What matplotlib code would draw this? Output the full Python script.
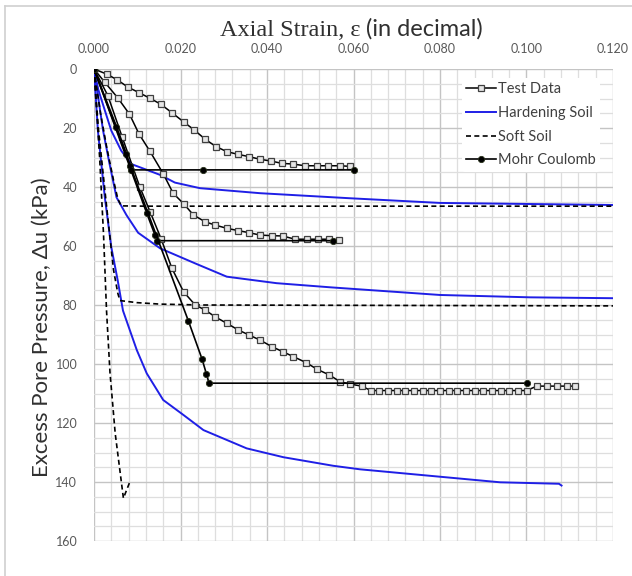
import matplotlib
matplotlib.use("Agg")
import matplotlib.pyplot as plt
from matplotlib.ticker import MultipleLocator, FormatStrFormatter
from matplotlib.lines import Line2D

plt.rcParams['font.family'] = ['Lato', 'DejaVu Sans']

# test data (three confining pressures)
t1_strain = [0, 0.0029, 0.0054, 0.0079, 0.0104, 0.0129, 0.0154, 0.0180, 0.0207, 0.0232,
             0.0257, 0.0282, 0.0307, 0.0332, 0.0358, 0.0384, 0.0409, 0.0435, 0.0459,
             0.0488, 0.0515, 0.0542, 0.0569, 0.0592]
t1_du = [0, 1.7, 3.7, 6.2, 8.0, 9.9, 11.9, 14.8, 17.9, 20.7, 23.8, 26.3, 28.0, 28.9,
         29.7, 30.6, 31.2, 32.0, 32.2, 32.8, 32.8, 32.8, 32.8, 33.0]

t2_strain = [0, 0.0025, 0.0055, 0.0082, 0.0104, 0.0129, 0.0160, 0.0183, 0.0208, 0.0230,
             0.0257, 0.0280, 0.0307, 0.0334, 0.0359, 0.0384, 0.0411, 0.0436, 0.0465,
             0.0492, 0.0517, 0.0543, 0.0567]
t2_du = [0, 4.5, 9.8, 15.3, 22.0, 27.8, 35.5, 42.1, 45.8, 49.5, 51.8, 52.9, 54.0, 54.8,
         55.5, 56.3, 56.5, 56.6, 57.7, 57.7, 57.7, 57.7, 57.9]

t3_strain = [0, 0.0032, 0.0065, 0.0106, 0.0130, 0.0155, 0.0180, 0.0207, 0.0234, 0.0257,
             0.0280, 0.0307, 0.0334, 0.0359, 0.0384, 0.0411, 0.0436, 0.0461, 0.0490,
             0.0516, 0.0544, 0.0569, 0.0592, 0.0619, 0.0640, 0.0660, 0.0680, 0.0700,
             0.0720, 0.0740, 0.0760, 0.0780, 0.0800, 0.0820, 0.0840, 0.0860, 0.0880,
             0.0900, 0.0920, 0.0940, 0.0960, 0.0980, 0.1000, 0.1024, 0.1047, 0.1070,
             0.1093, 0.1112]
t3_du = [0, 9.0, 23.0, 40.0, 48.5, 57.5, 67.5, 75.5, 80.0, 81.7, 84.0, 86.2, 88.5, 90.2,
         91.9, 94.1, 95.8, 97.5, 99.5, 101.8, 103.7, 106.0, 106.8, 107.5, 109.0, 109.0,
         109.0, 109.0, 109.0, 109.0, 109.0, 109.0, 109.0, 109.0, 109.0, 109.0, 109.0,
         109.0, 109.0, 109.0, 109.0, 109.0, 109.0, 107.5, 107.5, 107.5, 107.5, 107.5]

# Hardening Soil model
hs1_strain = [0, 0.0010, 0.0025, 0.0040, 0.0063, 0.0086, 0.0106, 0.0153, 0.0187, 0.0245,
              0.0384, 0.0590, 0.0800, 0.1200]
hs1_du = [0, 7.0, 14.0, 20.9, 27.7, 32.2, 33.3, 35.9, 38.5, 40.4, 42.1, 43.8, 45.4, 46.1]

hs2_strain = [0, 0.0021, 0.0036, 0.0052, 0.0075, 0.0102, 0.0153, 0.0234, 0.0307, 0.0422,
              0.0546, 0.0800, 0.1008, 0.1200]
hs2_du = [0, 20.9, 32.2, 43.5, 49.5, 55.5, 60.8, 65.9, 70.4, 72.6, 74.0, 76.6, 77.4, 77.7]

hs3_strain = [0, 0.0009, 0.0025, 0.0040, 0.0055, 0.0067, 0.0099, 0.0122, 0.0160, 0.0207,
              0.0253, 0.0353, 0.0438, 0.0553, 0.0615, 0.0939, 0.1075, 0.1081]
hs3_du = [0, 20.9, 43.5, 60.4, 71.8, 81.9, 95.3, 103.2, 112.2, 117.3, 122.4, 128.6,
          131.6, 134.5, 135.7, 140.1, 140.6, 141.2]

# Soft Soil model
ss1_strain = [0, 0.0015, 0.0030, 0.0045, 0.0055, 0.0063, 0.0120, 0.0300, 0.1200]
ss1_du = [0, 15.0, 27.0, 37.6, 44.0, 46.4, 46.5, 46.5, 46.5]

ss2_strain = [0, 0.0010, 0.0028, 0.0045, 0.0055, 0.0060, 0.0099, 0.0153, 0.0250, 0.1200]
ss2_du = [0, 20.0, 45.0, 68.0, 76.0, 78.5, 79.2, 79.7, 80.0, 80.3]

ss3_strain = [0, 0.0013, 0.0022, 0.0029, 0.0037, 0.0049, 0.0068, 0.0083]
ss3_du = [0, 30.0, 56.0, 82.0, 103.0, 123.5, 145.5, 139.9]

# Mohr Coulomb model
mc1_strain = [0, 0.0052, 0.0075, 0.0083, 0.0085, 0.0253, 0.0600]
mc1_du = [0, 19.5, 28.8, 32.8, 34.2, 34.2, 34.2]

mc2_strain = [0, 0.0122, 0.0141, 0.0145, 0.0552]
mc2_du = [0, 48.9, 56.3, 58.2, 58.2]

mc3_strain = [0, 0.0218, 0.0250, 0.0260, 0.0266, 0.1001]
mc3_du = [0, 85.3, 98.4, 103.4, 106.5, 106.5]

W, H = 632, 576
fig = plt.figure(figsize=(W / 100, H / 100), dpi=100)
ax = fig.add_axes([94 / W, 1 - 541 / H, (613 - 94) / W, (541 - 69) / H])

test_kw = dict(color='black', lw=1.1, marker='s', ms=4.8, mfc='#e6e6e6', mec='#404040',
               mew=0.9, zorder=4)
hs_kw = dict(color='#1f1fe6', lw=1.4, zorder=3)
ss_kw = dict(color='black', lw=1.2, ls=(0, (3, 2)), zorder=3)
mc_kw = dict(color='black', lw=1.2, marker='o', ms=4.5, mfc='black', mec='#28301a',
             mew=0.6, zorder=5)

ax.plot(t1_strain, t1_du, label='Test Data', **test_kw)
ax.plot(t2_strain, t2_du, **test_kw)
ax.plot(t3_strain, t3_du, **test_kw)
ax.plot(hs1_strain, hs1_du, label='Hardening Soil', **hs_kw)
ax.plot(hs2_strain, hs2_du, **hs_kw)
ax.plot(hs3_strain, hs3_du, **hs_kw)
ax.plot(ss1_strain, ss1_du, label='Soft Soil', **ss_kw)
ax.plot(ss2_strain, ss2_du, **ss_kw)
ax.plot(ss3_strain, ss3_du, **ss_kw)
ax.plot(mc1_strain, mc1_du, label='Mohr Coulomb', **mc_kw)
ax.plot(mc2_strain, mc2_du, **mc_kw)
ax.plot(mc3_strain, mc3_du, **mc_kw)

ax.set_xlim(0, 0.12)
ax.set_ylim(160, 0)
ax.xaxis.tick_top()
ax.xaxis.set_major_locator(MultipleLocator(0.02))
ax.xaxis.set_minor_locator(MultipleLocator(0.004))
ax.xaxis.set_major_formatter(FormatStrFormatter('%.3f'))
ax.yaxis.set_major_locator(MultipleLocator(20))
ax.yaxis.set_minor_locator(MultipleLocator(5))
ax.tick_params(which='both', length=0, labelsize=9, labelcolor='#595959')
ax.tick_params(axis='x', pad=10)
ax.tick_params(axis='y', pad=12)
ax.grid(which='major', color='#c4c4c4', lw=1.0)
ax.grid(which='minor', color='#dedede', lw=0.9)
ax.set_axisbelow(True)
for s in ax.spines.values():
    s.set_visible(False)

leg = ax.legend(loc='upper left', bbox_to_anchor=(462 / W, 1 - 78 / H),
                bbox_transform=fig.transFigure, frameon=True, fontsize=10.5,
                handlelength=2.0, handletextpad=0.15, labelspacing=0.66,
                borderpad=0.3, borderaxespad=0)
leg.get_frame().set_facecolor('white')
leg.get_frame().set_edgecolor('none')
leg.get_frame().set_alpha(1)
for t in leg.get_texts():
    t.set_color('#404040')

# title in two fonts: serif symbol part, sans bracket part
t_a = fig.text(220 / W, 1 - 36 / H, 'Axial Strain, \u03b5', family='Liberation Serif',
               fontsize=17.5, color='#303030', va='baseline', ha='left')
fig.canvas.draw()
bb = t_a.get_window_extent()
fig.text((bb.x1 + 6) / W, 1 - 36 / H, '(in decimal)', fontsize=17, color='#303030',
         va='baseline', ha='left')

fig.text(42 / W, 1 - 327 / H, 'Excess Pore Pressure, \u0394u (kPa)', fontsize=16,
         color='#303030', rotation=90, ha='center', va='center')

# chart frame
fig.add_artist(Line2D([5 / W, 1], [1 - 6 / H, 1 - 6 / H], color='#d0d0d0', lw=1.2))
fig.add_artist(Line2D([5 / W, 5 / W], [0, 1 - 6 / H], color='#d0d0d0', lw=1.2))

fig.savefig('out.png', dpi=100)
